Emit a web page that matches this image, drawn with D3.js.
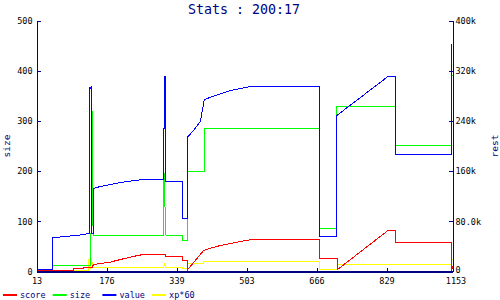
<!DOCTYPE html>
<html>
<head>
<meta charset="utf-8">
<script src="https://cdn.jsdelivr.net/npm/d3@7"></script>
<style>
  body { margin: 0; background: #fff; }
  svg { display: block; }
  .tick text { font-family: "DejaVu Sans Mono", monospace; font-size: 8.5px; fill: #000; }
</style>
</head>
<body>
<div id="chart"></div>
<script>
// chart values
const title = "Stats : 200:17";
const xTickLabels = ["13", "176", "339", "503", "666", "829", "1153"];
const leftTicks = [0, 100, 200, 300, 400, 500];
const rightTicks = [0, 80, 160, 240, 320, 400];
const rightTickLabels = ["0", "80.0k", "160k", "240k", "320k", "400k"];

// [x, value] ; size on left axis, the others on right axis (in k)
const sizePts = [[13,1],[56,1],[56,11.4],[160,11.4],[160,75.7],[165,75.7],[166,320.7],[168,71.7],[361,71.7],[361,195.2],[365,195.2],[365,131.5],[368,71.7],[414,71.7],[414,61.8],[426,61.8],[426,199.2],[473,199.2],[473,284.9],[789,284.9],[789,85.1],[834,85.1],[834,328.7],[996,328.7],[996,250.4],[1149,250.4],[1149,389.8],[1153,389.8]];
const valuePts = [[13,2.4],[56,2.4],[56,54.2],[79,55.0],[106,56.6],[134,58.2],[158,60.6],[158,293],[160,292],[164,295],[165,60.6],[168,60.6],[169,132.3],[188,135.5],[216,138.7],[243,141.8],[271,144.2],[306,146.6],[361,146.6],[361,227.9],[363,227.9],[364,311],[366,311],[367,143.4],[413,143.4],[413,84.5],[426,84.5],[426,213.5],[443,224.7],[462,239],[473,274.1],[503,280.5],[545,288.4],[599,294.8],[789,294.8],[789,55.8],[834,55.8],[834,108],[836,108],[836,248.6],[976,310.7],[996,310.7],[996,186],[1149,186],[1149,361.7],[1153,363]];
const scorePts = [[13,0.8],[79,0.8],[79,2.1],[114,2.1],[114,4.8],[142,4.8],[142,6.9],[166,6.9],[169,11.2],[188,12.7],[216,15.1],[243,19.1],[271,23.1],[298,26.3],[366,26.3],[366,23.9],[413,23.9],[413,17.5],[426,17.5],[427,2.7],[471,33.5],[490,37.4],[517,41.4],[545,44.6],[572,47.8],[599,50.5],[789,50.5],[789,20.2],[837,20.2],[837,2.7],[976,65.3],[996,65.3],[996,46.7],[1149,46.7],[1149,1.6],[1150,0.8],[1153,8]];
const xpPts = [[13,0.8],[155,0.8],[157,20.7],[161,20.7],[161,4.8],[164,20.7],[167,6.9],[361,6.9],[364,11.2],[367,6.9],[413,6.9],[413,4.0],[427,4.0],[427,13.2],[471,13.2],[471,15.6],[789,15.6],[789,2.7],[838,2.7],[838,11.2],[1149,11.2],[1149,19.6],[1153,19.6]];

const legendNames = ["score", "size", "value", "xp*60"];
const legendColors = ["#ff0000", "#00ff00", "#0000ff", "#ffff00"];

const width = 500, height = 300;
const navy = "#000080";

const svg = d3.select("#chart").append("svg")
  .attr("width", width)
  .attr("height", height);

svg.append("rect").attr("width", width).attr("height", height).attr("fill", "white");

const x = d3.scaleLinear().domain([13, 1153]).range([36.5, 452.5]);
const yL = d3.scaleLinear().domain([0, 500]).range([271.5, 20.5]);
const yR = d3.scaleLinear().domain([0, 400]).range([271.5, 20.5]);

const lineL = d3.line().x(d => x(d[0])).y(d => yL(d[1]));
const lineR = d3.line().x(d => x(d[0])).y(d => yR(d[1]));

// series, bottom to top
const series = [
  { pts: xpPts, line: lineR, color: legendColors[3] },
  { pts: sizePts, line: lineL, color: legendColors[1] },
  { pts: valuePts, line: lineR, color: legendColors[2] },
  { pts: scorePts, line: lineR, color: legendColors[0] }
];

svg.append("g")
  .selectAll("path")
  .data(series)
  .join("path")
  .attr("d", d => d.line(d.pts))
  .attr("fill", "none")
  .attr("stroke", d => d.color)
  .attr("stroke-width", 1)
  .attr("shape-rendering", "crispEdges");

// axes
const xTickPos = xTickLabels.map((d, i) => i < 6 ? x.invert(x(13) + i * 70) : 1153);

const gx = svg.append("g")
  .attr("transform", "translate(0," + yL(0) + ")")
  .call(d3.axisBottom(x)
    .tickValues(xTickPos)
    .tickFormat((d, i) => xTickLabels[i])
    .tickSizeInner(-4)
    .tickSizeOuter(0)
    .tickPadding(6));

const gl = svg.append("g")
  .attr("transform", "translate(" + x(13) + ",0)")
  .call(d3.axisLeft(yL)
    .tickValues(leftTicks)
    .tickFormat(d3.format("d"))
    .tickSizeInner(-4)
    .tickSizeOuter(0)
    .tickPadding(4));

const gr = svg.append("g")
  .attr("transform", "translate(" + x(1153) + ",0)")
  .call(d3.axisRight(yR)
    .tickValues(rightTicks)
    .tickFormat((d, i) => rightTickLabels[i])
    .tickSizeInner(-4)
    .tickSizeOuter(0)
    .tickPadding(3));

// last labels sit a little off their tick, as in the picture
gx.selectAll(".tick text").filter((d, i) => i === 6).attr("dx", 3);
gr.selectAll(".tick text").filter((d, i) => i === 0).attr("dy", "0.1em");

[gx, gl, gr].forEach(g => {
  g.selectAll(".domain, line").attr("stroke", navy).attr("shape-rendering", "crispEdges");
});
gx.select(".domain").attr("stroke-width", 2);

// title and axis labels
svg.append("text")
  .attr("x", 244).attr("y", 14)
  .attr("text-anchor", "middle")
  .attr("font-family", "DejaVu Sans Mono, monospace")
  .attr("font-size", 13.3)
  .attr("fill", navy)
  .text(title);

svg.append("text")
  .attr("transform", "translate(10,146) rotate(-90)")
  .attr("text-anchor", "middle")
  .attr("font-family", "DejaVu Sans Mono, monospace")
  .attr("font-size", 9.5)
  .attr("fill", navy)
  .text("size");

svg.append("text")
  .attr("transform", "translate(498,146) rotate(-90)")
  .attr("text-anchor", "middle")
  .attr("font-family", "DejaVu Sans Mono, monospace")
  .attr("font-size", 9.5)
  .attr("fill", navy)
  .text("rest");

// legend
const lg = svg.append("g").selectAll("g")
  .data(legendNames)
  .join("g")
  .attr("transform", (d, i) => "translate(" + (3 + i * 49.7) + ",295)");

lg.append("line")
  .attr("x1", 0).attr("x2", 14)
  .attr("stroke", (d, i) => legendColors[i])
  .attr("stroke-width", 2);

lg.append("text")
  .attr("x", 17).attr("y", 3)
  .attr("font-family", "DejaVu Sans Mono, monospace")
  .attr("font-size", 8.5)
  .attr("fill", navy)
  .text(d => d);
</script>
</body>
</html>
